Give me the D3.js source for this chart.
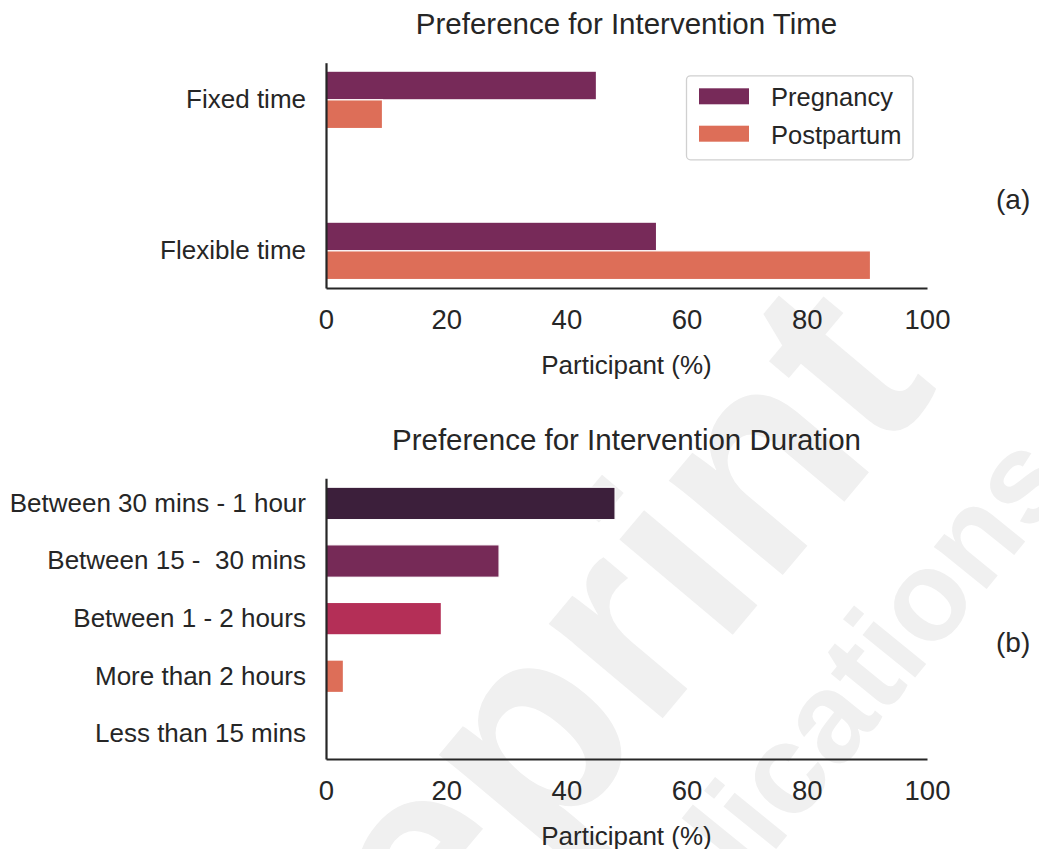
<!DOCTYPE html>
<html>
<head>
<meta charset="utf-8">
<script src="https://cdn.jsdelivr.net/npm/d3@7"></script>
<style>
  html, body { margin: 0; padding: 0; background: #ffffff; }
  svg { display: block; }
  text { font-family: "Liberation Sans", Arial, Helvetica, sans-serif; fill: #262626; white-space: pre; }
</style>
</head>
<body>
<svg id="chart" width="1039" height="849"></svg>
<script>
// ---- data ----
const timeCategories = ["Fixed time", "Flexible time"];
const timeSeries = ["Pregnancy", "Postpartum"];
const pregnancyValues = [45.0, 55.0];
const postpartumValues = [9.4, 90.6];

const durationCategories = [
  "Between 30 mins - 1 hour",
  "Between 15 -  30 mins",
  "Between 1 - 2 hours",
  "More than 2 hours",
  "Less than 15 mins"
];
const durationValues = [48.1, 28.8, 19.2, 2.9, 0];

const xTicks = [0, 20, 40, 60, 80, 100];
const axisTitle = "Participant (%)";
const titleTop = "Preference for Intervention Time";
const titleBottom = "Preference for Intervention Duration";

// ---- styling ----
const seriesColors = ["#772A59", "#DD6E58"];
const durationColors = ["#3C1F3B", "#762A57", "#B42F57", "#DD6E58", "#F0A47E"];
const ink = "#262626";

const svg = d3.select("#chart");

// faint background watermark
const wm = svg.append("g").attr("class", "watermark");
wm.append("text")
  .attr("transform", "translate(250,1210) rotate(-50)")
  .style("font-weight", "bold").style("font-size", "280px").style("fill", "#f0f0f0")
  .text("Preprint");
wm.append("text")
  .attr("transform", "translate(1075,480) rotate(-51)")
  .attr("text-anchor", "end")
  .style("font-weight", "bold").style("font-size", "128px").style("fill", "#f0f0f0")
  .text("JMIR Publications");

const x = d3.scaleLinear().domain([0, 100]).range([326, 927]);

function drawXAxis(g, yPos) {
  const ax = g.append("g")
    .attr("transform", `translate(0,${yPos})`)
    .call(d3.axisBottom(x).tickValues(xTicks).tickSize(0).tickSizeOuter(0).tickPadding(21));
  ax.select(".domain").attr("stroke", ink).attr("stroke-width", 2.2);
  ax.selectAll("text").style("font-size", "27.5px").style("fill", ink);
  g.append("text")
    .attr("x", (x(0) + x(100)) / 2).attr("y", yPos + 86)
    .attr("text-anchor", "middle").style("font-size", "26px")
    .text(axisTitle);
}

function drawYAxis(g, scale) {
  const ay = g.append("g")
    .attr("transform", `translate(${x(0)},0)`)
    .call(d3.axisLeft(scale).tickSize(0).tickSizeOuter(0).tickPadding(20));
  ay.select(".domain").attr("stroke", ink).attr("stroke-width", 2.2);
  ay.selectAll("text").style("font-size", "26px").style("fill", ink);
}

// ---- panel (a): intervention time ----
const gA = svg.append("g");
const yA = d3.scaleBand().domain(timeCategories).range([62.7, 288])
  .paddingInner(0.62).paddingOuter(0.056);
const ySub = d3.scaleBand().domain(timeSeries).range([0, yA.bandwidth()]);
const timeRows = timeCategories.map((c, i) => ({
  category: c,
  values: [
    { series: timeSeries[0], value: pregnancyValues[i] },
    { series: timeSeries[1], value: postpartumValues[i] }
  ]
}));
const colorA = d3.scaleOrdinal().domain(timeSeries).range(seriesColors);

gA.selectAll("g.row").data(timeRows).join("g")
  .attr("class", "row")
  .attr("transform", d => `translate(0,${yA(d.category)})`)
  .selectAll("rect").data(d => d.values).join("rect")
  .attr("x", x(0))
  .attr("y", d => ySub(d.series))
  .attr("width", d => x(d.value) - x(0))
  .attr("height", ySub.bandwidth())
  .attr("fill", d => colorA(d.series))
  .attr("stroke", "#ffffff").attr("stroke-width", 1.2);

drawYAxis(gA, yA);
drawXAxis(gA, 288);

gA.append("text").attr("x", (x(0) + x(100)) / 2).attr("y", 34.3)
  .attr("text-anchor", "middle").style("font-size", "29.5px").text(titleTop);

// legend
const leg = gA.append("g");
leg.append("rect").attr("x", 686.5).attr("y", 75.8).attr("width", 226.5).attr("height", 84)
  .attr("rx", 4).attr("fill", "#ffffff").attr("fill-opacity", 0.85)
  .attr("stroke", "#d0d0d0").attr("stroke-width", 1.3);
const legItems = leg.selectAll("g.item").data(timeSeries).join("g")
  .attr("class", "item")
  .attr("transform", (d, i) => `translate(699,${88.3 + i * 37.4})`);
legItems.append("rect").attr("width", 50).attr("height", 16).attr("fill", d => colorA(d));
legItems.append("text").attr("x", 72).attr("y", 17.8).style("font-size", "25.5px").text(d => d);

gA.append("text").attr("x", 996).attr("y", 208.5).style("font-size", "28px").text("(a)");

// ---- panel (b): intervention duration ----
const gB = svg.append("g");
const yB = d3.scaleBand().domain(durationCategories).range([478.3, 759])
  .paddingInner(0.4375).paddingOuter(0.155);
const colorB = d3.scaleOrdinal().domain(durationCategories).range(durationColors);

gB.selectAll("rect").data(durationCategories.map((c, i) => ({ category: c, value: durationValues[i] })))
  .join("rect")
  .attr("x", x(0))
  .attr("y", d => yB(d.category))
  .attr("width", d => x(d.value) - x(0))
  .attr("height", yB.bandwidth())
  .attr("fill", d => colorB(d.category))
  .attr("stroke", "#ffffff").attr("stroke-width", d => d.value > 0 ? 1.2 : 0);

drawYAxis(gB, yB);
drawXAxis(gB, 759);

gB.append("text").attr("x", (x(0) + x(100)) / 2).attr("y", 450)
  .attr("text-anchor", "middle").style("font-size", "29.5px").text(titleBottom);

gB.append("text").attr("x", 996).attr("y", 652).style("font-size", "28px").text("(b)");
</script>
</body>
</html>
